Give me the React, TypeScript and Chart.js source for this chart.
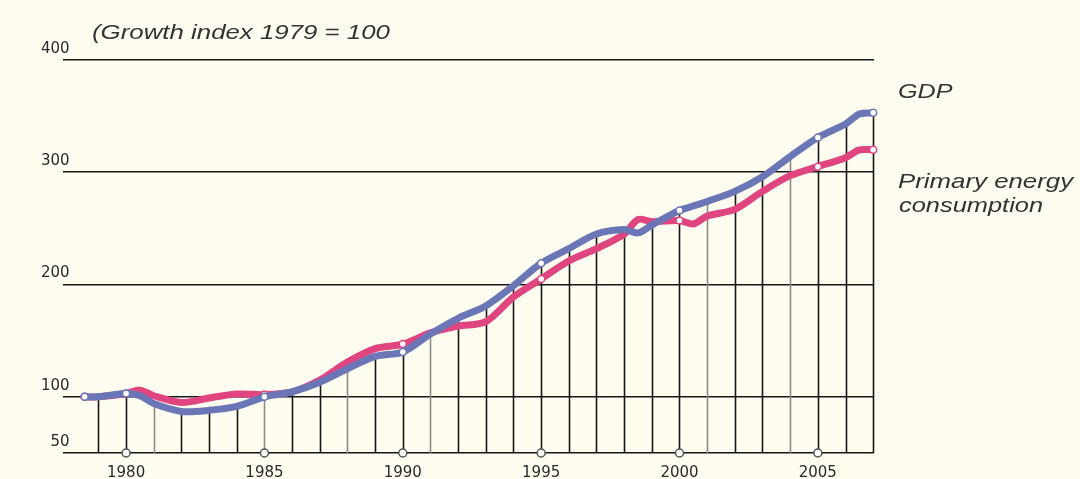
import { useEffect, useRef } from "react";
import { Chart, registerables } from "chart.js";

Chart.register(...registerables);

// ---- Data ----
const years = [
  1978.5, 1979, 1980, 1980.5, 1981, 1982, 1983, 1984, 1985, 1986, 1987, 1988,
  1989, 1990, 1991, 1992, 1993, 1994, 1995, 1996, 1997, 1998, 1998.5, 1999,
  2000, 2000.5, 2001, 2002, 2003, 2004, 2005, 2006, 2006.5, 2007,
];
const gdp = [
  100, 100, 103, 101, 94, 87, 88, 91.5, 100, 104.5, 113, 125,
  136, 140, 156, 170, 181, 199, 219, 232, 245, 249, 246, 253,
  266, 270, 274, 283, 296, 314, 331, 343, 352, 353,
];
const energy = [
  100, 100, 103, 106, 101, 95, 99, 102.5, 102, 104.5, 115, 131,
  143, 147, 157, 163, 167, 189, 205, 221, 232, 245, 258, 256,
  257, 254, 261, 267, 283, 297, 305, 313, 320, 320,
];
const markerYears = [1978.5, 1980, 1985, 1990, 1995, 2000, 2005, 2007];
const xTickYears = [1980, 1985, 1990, 1995, 2000, 2005];
const yTickValues = [50, 100, 200, 300, 400];
const lightDropYears = [1981, 1985, 1988, 1991, 2001, 2004];

const titleText = "(Growth index 1979 = 100";
const gdpLabel = "GDP";
const energyLabel = ["Primary energy", "consumption"];

const BG = "#fffdf0";
const BLUE = "#6a76b6";
const PINK = "#e0457f";

function stretchedText(ctx: CanvasRenderingContext2D, text: string, x: number, y: number, sx: number) {
  ctx.save();
  ctx.translate(x, y);
  ctx.scale(sx, 1);
  ctx.fillText(text, 0, 0);
  ctx.restore();
}

const decorPlugin = {
  id: "decor",
  beforeDraw(chart: any) {
    const ctx = chart.ctx as CanvasRenderingContext2D;
    ctx.save();
    ctx.fillStyle = BG;
    ctx.fillRect(0, 0, chart.width, chart.height);
    ctx.restore();
  },
  beforeDatasetsDraw(chart: any) {
    const ctx = chart.ctx as CanvasRenderingContext2D;
    const x = chart.scales.x;
    const y = chart.scales.y;
    const base = y.getPixelForValue(50);
    ctx.save();
    years.forEach((yr, i) => {
      if (!Number.isInteger(yr)) return;
      const px = Math.round(x.getPixelForValue(yr)) + 0.5;
      ctx.strokeStyle = lightDropYears.includes(yr) ? "#8c8c86" : "#161616";
      ctx.lineWidth = 1.6;
      ctx.beginPath();
      ctx.moveTo(px, base);
      ctx.lineTo(px, y.getPixelForValue(gdp[i]));
      ctx.stroke();
    });
    xTickYears.forEach((yr) => {
      const px = x.getPixelForValue(yr);
      ctx.beginPath();
      ctx.arc(px, base, 4, 0, Math.PI * 2);
      ctx.fillStyle = "#ffffff";
      ctx.fill();
      ctx.strokeStyle = "#555555";
      ctx.lineWidth = 1.5;
      ctx.stroke();
    });
    ctx.restore();
  },
  afterDraw(chart: any) {
    const ctx = chart.ctx as CanvasRenderingContext2D;
    ctx.save();
    ctx.fillStyle = "#333333";
    ctx.textBaseline = "alphabetic";
    ctx.textAlign = "left";
    ctx.font = 'italic 21px "Liberation Sans", Arial, sans-serif';
    stretchedText(ctx, titleText, 92, 39, 1.23);
    stretchedText(ctx, gdpLabel, 898, 98, 1.2);
    stretchedText(ctx, energyLabel[0], 898, 188, 1.23);
    stretchedText(ctx, energyLabel[1], 899, 212, 1.21);
    ctx.restore();
  },
};

export default function App() {
  const ref = useRef<HTMLCanvasElement | null>(null);

  useEffect(() => {
    document.body.style.margin = "0";
    document.body.style.background = BG;
    if (!ref.current) return;
    const pointRadius = (c: any) => (markerYears.includes(years[c.dataIndex]) ? 3.5 : 0);
    const chart = new Chart(ref.current, {
      type: "line",
      data: {
        datasets: [
          {
            label: gdpLabel,
            data: years.map((yr, i) => ({ x: yr, y: gdp[i] })),
            borderColor: BLUE,
            borderWidth: 7,
            tension: 0.3,
            borderCapStyle: "round",
            borderJoinStyle: "round",
            pointRadius,
            pointBackgroundColor: "#ffffff",
            pointBorderColor: BLUE,
            pointBorderWidth: 1.5,
            clip: false,
          } as any,
          {
            label: energyLabel.join(" "),
            data: years.map((yr, i) => ({ x: yr, y: energy[i] })),
            borderColor: PINK,
            borderWidth: 7,
            tension: 0.3,
            borderCapStyle: "round",
            borderJoinStyle: "round",
            pointRadius,
            pointBackgroundColor: "#ffffff",
            pointBorderColor: PINK,
            pointBorderWidth: 1.5,
            clip: false,
          } as any,
        ],
      },
      options: {
        animation: false,
        responsive: false,
        devicePixelRatio: 1,
        layout: { padding: { top: 60, right: 206, left: 0, bottom: 0 } },
        plugins: { legend: { display: false }, tooltip: { enabled: false } },
        scales: {
          x: {
            type: "linear",
            min: 1977.72,
            max: 2007.03,
            afterBuildTicks: (s: any) => {
              s.ticks = xTickYears.map((v) => ({ value: v }));
            },
            afterFit: (s: any) => {
              s.height = 26;
            },
            grid: { display: false },
            border: { display: false },
            ticks: {
              autoSkip: false,
              maxRotation: 0,
              padding: 3,
              color: "#2a2a2a",
              font: { family: '"DejaVu Sans", Verdana, sans-serif', size: 15 },
              callback: (v: any) => String(v),
            },
          },
          y: {
            type: "linear",
            min: 50,
            max: 400,
            afterBuildTicks: (s: any) => {
              s.ticks = yTickValues.map((v) => ({ value: v }));
            },
            afterFit: (s: any) => {
              s.width = 63;
            },
            grid: { color: "#161616", lineWidth: 1.6, drawTicks: false },
            border: { display: false },
            ticks: {
              mirror: true,
              crossAlign: "far",
              padding: -22,
              labelOffset: -11,
              color: "#2a2a2a",
              font: { family: '"DejaVu Sans", Verdana, sans-serif', size: 15 },
              callback: (v: any) => String(v),
            },
          },
        },
      },
      plugins: [decorPlugin],
    });
    return () => chart.destroy();
  }, []);

  return (
    <div style={{ width: 1080, height: 479, background: BG }}>
      <canvas ref={ref} width={1080} height={479} style={{ display: "block" }} />
    </div>
  );
}
